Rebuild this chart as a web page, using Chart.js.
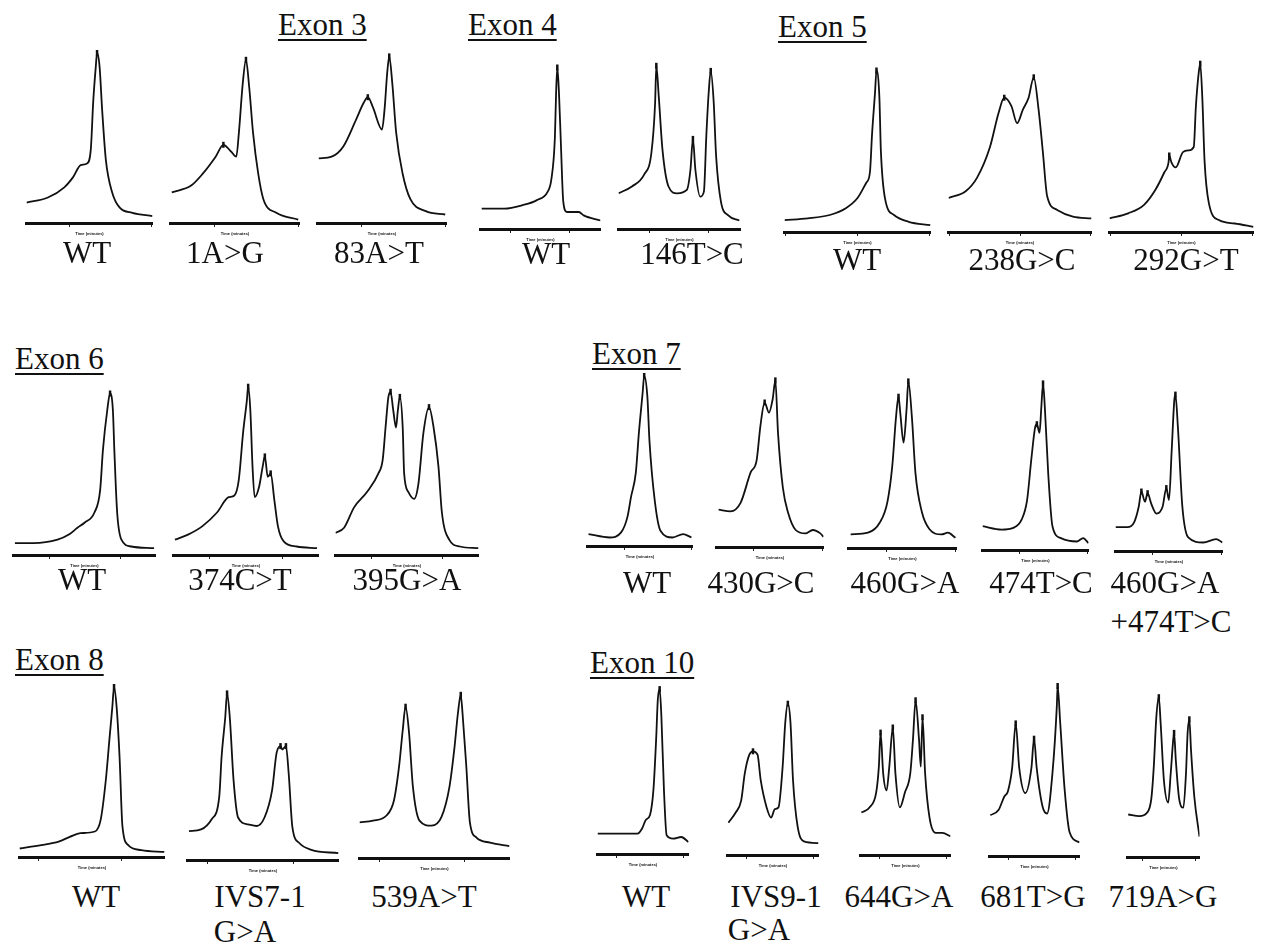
<!DOCTYPE html>
<html>
<head>
<meta charset="utf-8">
<script src="https://cdn.jsdelivr.net/npm/chart.js@4.4.0/dist/chart.umd.min.js"></script>
<style>
body { margin: 0; background: #fff; }
#page { position: relative; width: 1268px; height: 947px; overflow: hidden; background: #fff; }
#page canvas { position: absolute; }
.txt { position: absolute; font-family: "Liberation Serif", "Times New Roman", serif; font-size: 31px; line-height: 31px; color: #111; white-space: nowrap; }
.hdr { text-decoration: underline; text-decoration-thickness: 1.5px; text-underline-offset: 4px; }
</style>
</head>
<body>
<div id="page"></div>
<script>
'use strict';

// exon headings and peak labels
let exonTitles = ['Exon 3', 'Exon 4', 'Exon 5', 'Exon 6', 'Exon 7', 'Exon 8', 'Exon 10'];
let sampleLabels = ['WT', '1A>G', '83A>T', 'WT', '146T>C', 'WT', '238G>C', '292G>T',
    'WT', '374C>T', '395G>A', 'WT', '430G>C', '460G>A', '474T>C', '460G>A\n+474T>C',
    'WT', 'IVS7-1\nG>A', '539A>T', 'WT', 'IVS9-1\nG>A', '644G>A', '681T>G', '719A>G'];

// retention time (0-100) vs absorbance (mV)
let e3Wt = [[0,12],[17,15],[30,21],[37,27],[43,34],[48,35],[51,43],[53,72],[55,92],[56,100],[58,92],[60,67],[63,37],[68,18],[74,9],[84,6],[100,4]];
let e3_1AG = [[1,18],[16,22],[25,29],[35,39],[41,46],[47,42],[51,39],[53,53],[56,82],[58.5,96],[61,80],[64,53],[68,29],[72,14],[82,6],[99,2]];
let e3_83AT = [[1,38],[11,39],[20,45],[30,61],[36,71],[39,74],[43,68],[50,55],[52,67],[54,88],[55.6,98],[58,82],[61,53],[66,29],[72,14],[84,7],[99,5]];
let e4Wt = [[1,12],[20,12],[35,14],[47,17],[56,22],[59,29],[62,54],[63,80],[64,95],[65.4,80],[67,50],[69,16],[72,10],[82,10],[86,8],[100,5]];
let e4_146TC = [[0,21],[11,25],[21,32],[27,45],[30,74],[31,96],[33,78],[36,47],[41,25],[48,21],[56,23],[59,35],[61,53],[63,35],[67,19],[70,22],[72,55],[74,81],[75.6,93],[78,75],[80,43],[84,16],[90,8],[99,5]];
let e5Wt = [[0,7],[16,8],[31,10],[42,14],[50,20],[56,29],[58.5,35],[60,58],[62,82],[63,95],[65,79],[66,48],[69,19],[75,10],[85,6],[100,4]];
let e5_238GC = [[0,20],[12,24],[20,32],[29,50],[35,70],[39,79],[44,74],[48,64],[52,72],[56,79],[59.6,91],[63,72],[66,47],[69,21],[76,13],[87,9],[100,8]];
let e5_292GT = [[0,8],[13,11],[24,16],[32,25],[38,35],[41,41],[41.5,45],[43,41],[46,38],[51,47],[55,48],[58.5,50],[60,74],[62,94],[63,99],[64.5,78],[66,42],[69,17],[76,7],[87,5],[100,3]];
let e6Wt = [[1,7],[14,7],[31,9],[39,12],[45,16],[50,19],[57,25],[61,38],[63,62],[66,85],[68,95],[70,85],[71,62],[73,25],[76,9],[83,5],[99,4]];
let e6_374CT = [[1,9],[10,12],[20,17],[30,25],[38,34],[42,35],[45,44],[48,72],[50.6,91],[51.5,99],[53,85],[54.5,52],[56,34],[59,40],[61.5,52],[63,58],[65,46],[67,48],[69.6,32],[72,17],[76,8],[85,5],[99,4]];
let e6_395GA = [[0,13],[6,16],[13,28],[22,37],[30,48],[33,56],[35,75],[37,93],[38.5,96],[40.4,85],[42.3,75],[43.6,85],[45,93],[47,75],[48,48],[51,37],[55,33],[58,42],[61.5,72],[65.4,87],[68.6,75],[72,52],[74.4,25],[79.5,9],[87,5],[100,4]];
let e7Wt = [[1,7],[21,5],[32,8],[38,17],[41.5,29],[46,43],[49,67],[52.5,90],[54,100],[57,88],[59,62],[64,27],[69.5,9],[81,5],[91,7],[99,5]];
let e7_430GC = [[2,22],[13,21],[22.5,26],[32,44],[37.5,51],[41,71],[45,85],[49,79],[52.5,87],[55,98],[57.5,67],[62,35],[67,20],[74,10],[83,8],[90,10],[97,8],[100,6]];
let e7_460GA = [[2,8],[18,9],[29,15],[36,27],[40.5,48],[44,77],[46.3,89],[48,79],[51,62],[53.7,81],[55.4,98],[58.7,77],[62,44],[68,21],[75,11],[86,8],[92,9],[99,6]];
let e7_474TC = [[0,14],[18,12],[29,13],[37,18],[42,29],[46,53],[49.6,72],[51.3,74],[53.8,69],[55.5,84],[57.1,98],[58.8,84],[62,45],[66,14],[74,7],[89,5],[95,7],[100,4]];
let e7_460GA_474TC = [[0,14],[11,14],[17.5,17],[21.7,26],[24.2,35],[27.5,29],[30,34],[33.3,28],[38.3,22],[44,26],[47.5,37],[50,30],[52.5,59],[55,89],[56,92],[58.3,73],[62.5,26],[68,8],[82,5],[94,7],[100,5]];
let e8Wt = [[0,5],[15,7],[27,9],[35,12],[42,14],[52,15],[56,22],[59.5,45],[62,69],[64,88],[65.2,100],[67,88],[69,59],[71,18],[75,7],[84,4],[100,3]];
let e8_ivs71 = [[1,17],[9,18],[16,24],[21,37],[22.6,61],[25,84],[26.2,98],[28,84],[30.5,47],[33.5,25],[40,21],[45.7,20],[51,25],[56,41],[59,63],[61.6,67],[62.8,65],[65.2,67],[67,51],[69.5,19],[74,10],[82,6],[100,4]];
let e8_539AT = [[0,21],[9,22],[18,25],[23,34],[26.4,54],[28.8,75],[30.7,89],[33,74],[35.6,42],[40,22],[48,19],[54.6,24],[60,42],[63.2,64],[65.6,85],[67.5,96],[68.7,85],[71.2,54],[73.6,21],[78,12],[87,9],[100,7]];
let e10Wt = [[0,12],[23,12],[44,12],[49,15],[53,20],[57.7,23],[61.5,38],[64.4,67],[66.3,91],[68.3,97],[70.2,81],[73,38],[76,11],[83,9],[92,10],[100,7]];
let e10_ivs91 = [[1,19],[9,25],[15,32],[19,48],[24,59],[28,61],[33,59],[36.5,44],[43,28],[48,22],[52,27],[56,28],[60.6,52],[63.5,78],[66.3,89],[69.2,78],[72,44],[77,17],[84,8],[100,7]];
let e10_644GA = [[1,25],[10,28],[17.5,37],[20.4,52],[22.3,72],[25.2,48],[29,38],[32,52],[35.9,75],[38.8,48],[43.7,28],[49.5,37],[55.3,48],[58.3,68],[61.2,91],[65,68],[67,52],[68.9,81],[71.8,48],[76.7,22],[83.5,13],[91,13],[100,11]];
let e10_681TG = [[1,24],[10,27],[16.5,35],[20.4,38],[25.2,52],[29.1,78],[33,52],[39.8,37],[46.6,52],[49.5,69],[52.4,52],[59,29],[64,25],[70,49],[74.8,88],[75.7,100],[78.6,78],[83.5,39],[89,14],[100,8]];
let e10_719AG = [[1,25],[16.5,24],[27,26],[33,34],[36.5,53],[40,82],[43.5,94],[46,79],[50.6,45],[56.5,32],[60,49],[63.5,69],[64.7,73],[67.1,57],[71.8,34],[77.6,29],[81.2,49],[83.5,73],[85.9,81],[88.2,63],[92.9,35],[100,12]];

// minute tick marks under each run
let ticksE3 = [34, 99];
let ticksE4 = [25, 74];
let ticksE5 = [1, 50, 99];
let ticksE6 = [25, 75];
let ticksE7 = [35, 99];
let ticksE8 = [13, 70];
let ticksE10 = [21, 95];

// layout: [left, right, baseline y] of each trace, label centre, heading left/baseline
let headPos = [[278, 35], [468, 35], [778, 37], [15, 369], [592, 364], [15, 670], [590, 673]];
let panels = [
    { data: e3Wt, ticks: ticksE3, box: [20, 159, 223], lab: [87, 253] },
    { data: e3_1AG, ticks: ticksE3, box: [164, 306, 223], lab: [225, 253] },
    { data: e3_83AT, ticks: ticksE3, box: [311, 453, 223], lab: [379, 253] },
    { data: e4Wt, ticks: ticksE4, box: [474, 607, 229], lab: [546, 254] },
    { data: e4_146TC, ticks: ticksE4, box: [612, 747, 229], lab: [692, 254] },
    { data: e5Wt, ticks: ticksE5, box: [778, 937, 232], lab: [857, 260] },
    { data: e5_238GC, ticks: ticksE5, box: [942, 1098, 232], lab: [1022, 260] },
    { data: e5_292GT, ticks: ticksE5, box: [1103, 1260, 232], lab: [1186, 260] },
    { data: e6Wt, ticks: ticksE6, box: [7, 162, 555], lab: [82, 580] },
    { data: e6_374CT, ticks: ticksE6, box: [167, 325, 555], lab: [240, 580] },
    { data: e6_395GA, ticks: ticksE6, box: [329, 485, 555], lab: [407, 580] },
    { data: e7Wt, ticks: ticksE7, box: [581, 699, 546], lab: [647, 583] },
    { data: e7_430GC, ticks: ticksE7, box: [710, 830, 547], lab: [761, 583] },
    { data: e7_460GA, ticks: ticksE7, box: [842, 963, 548], lab: [905, 583] },
    { data: e7_474TC, ticks: ticksE7, box: [976, 1095, 550], lab: [1041, 583] },
    { data: e7_460GA_474TC, ticks: ticksE7, box: [1109, 1229, 551], lab: [1165, 583], lab2: [1171, 622] },
    { data: e8Wt, ticks: ticksE8, box: [13, 171, 857], lab: [96, 897] },
    { data: e8_ivs71, ticks: ticksE8, box: [181, 345, 860], lab: [260, 897], lab2: [245, 932] },
    { data: e8_539AT, ticks: ticksE8, box: [353, 516, 858], lab: [424, 897] },
    { data: e10Wt, ticks: ticksE10, box: [591, 695, 854], lab: [646, 897] },
    { data: e10_ivs91, ticks: ticksE10, box: [721, 825, 855], lab: [776, 897], lab2: [759, 930] },
    { data: e10_644GA, ticks: ticksE10, box: [854, 957, 855], lab: [899, 897] },
    { data: e10_681TG, ticks: ticksE10, box: [983, 1086, 856], lab: [1033, 897] },
    { data: e10_719AG, ticks: ticksE10, box: [1121, 1206, 857], lab: [1163, 897] }
];

let page = document.getElementById('page');
let plotH = 170, padTop = 8, axisH = 13;

function addText(text, cx, cy) {
    let d = document.createElement('div');
    d.className = 'txt';
    d.textContent = text;
    d.style.left = cx + 'px';
    d.style.top = (cy - 16) + 'px';
    d.style.transform = 'translateX(-50%)';
    page.appendChild(d);
}

for (let i = 0; i < exonTitles.length; i++) {
    let h = document.createElement('div');
    h.className = 'txt hdr';
    h.textContent = exonTitles[i];
    h.style.left = headPos[i][0] + 'px';
    h.style.top = (headPos[i][1] - 26) + 'px';
    page.appendChild(h);
}

// the integrator marks every real peak apex
function findApexes(pts) {
    let out = [];
    for (let i = 1; i < pts.length - 1; i++) {
        if (pts[i][1] > pts[i - 1][1] && pts[i][1] >= pts[i + 1][1] && pts[i][1] > 30) {
            out.push({ x: pts[i][0], y: pts[i][1] });
        }
    }
    return out;
}

function drawTrace(p) {
    let canvas = document.createElement('canvas');
    let w = p.box[1] - p.box[0];
    let h = plotH + padTop + axisH;
    canvas.width = w;
    canvas.height = h;
    canvas.style.left = p.box[0] + 'px';
    canvas.style.top = (p.box[2] - plotH - padTop) + 'px';
    page.appendChild(canvas);

    new Chart(canvas, {
        type: 'line',
        data: {
            datasets: [{
                data: p.data.map(v => ({ x: v[0], y: v[1] })),
                borderColor: '#111',
                borderWidth: 1.8,
                pointRadius: 0,
                fill: false,
                cubicInterpolationMode: 'monotone'
            }, {
                data: findApexes(p.data),
                showLine: false,
                pointStyle: 'line',
                rotation: 90,
                pointRadius: 3,
                borderColor: '#111',
                borderWidth: 2.5,
                clip: false
            }]
        },
        options: {
            responsive: false,
            animation: false,
            devicePixelRatio: 1,
            events: [],
            layout: { padding: { top: padTop, left: 0, right: 0, bottom: 0 } },
            plugins: { legend: { display: false }, tooltip: { enabled: false } },
            scales: {
                x: {
                    type: 'linear', min: 0, max: 100,
                    grid: { display: true, drawOnChartArea: false, drawTicks: true, tickLength: 4, color: '#222', lineWidth: 1 },
                    border: { display: true, color: '#111', width: 3 },
                    ticks: { display: false },
                    afterBuildTicks: s => { s.ticks = p.ticks.map(v => ({ value: v })); },
                    title: { display: true, text: 'Time (minutes)', color: '#111', font: { size: 4, weight: 'bold' }, padding: 0 },
                    afterFit: s => { s.height = axisH; }
                },
                y: { display: false, min: 0, max: 100 }
            }
        }
    });
}

for (let i = 0; i < panels.length; i++) {
    let p = panels[i];
    drawTrace(p);
    let lines = sampleLabels[i].split('\n');
    addText(lines[0], p.lab[0], p.lab[1]);
    if (lines.length > 1) {
        addText(lines[1], p.lab2[0], p.lab2[1]);
    }
}
</script>
</body>
</html>
